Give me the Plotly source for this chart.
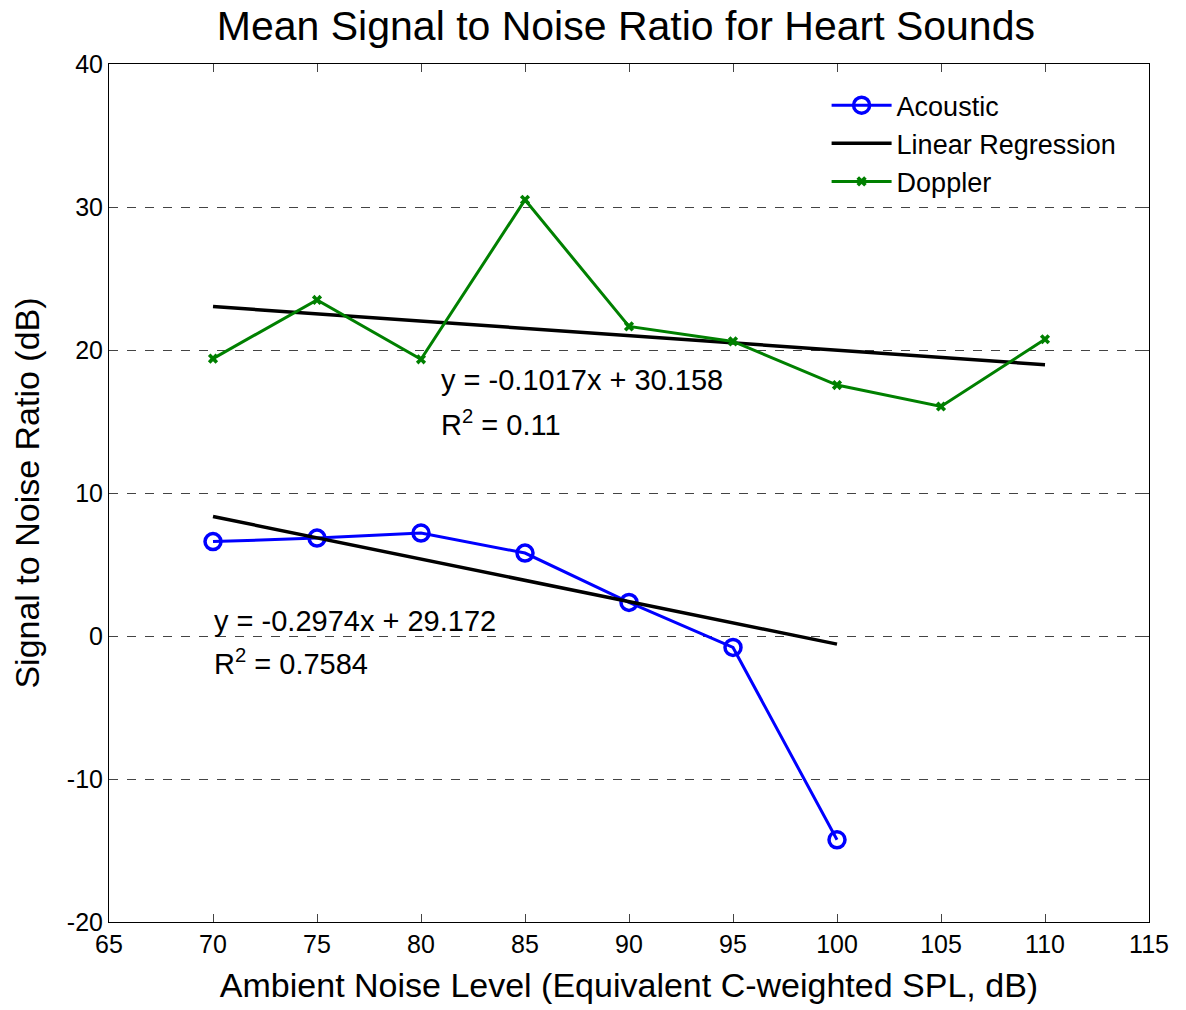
import plotly.graph_objects as go

noise_levels_acoustic = [70, 75, 80, 85, 90, 95, 100]
snr_acoustic = [6.6, 6.85, 7.2, 5.8, 2.35, -0.8, -14.25]

noise_levels_doppler = [70, 75, 80, 85, 90, 95, 100, 105, 110]
snr_doppler = [19.4, 23.5, 19.35, 30.5, 21.65, 20.6, 17.55, 16.05, 20.75]

fit_acoustic = {"slope": -0.2974, "intercept": 29.172, "r2": "0.7584", "x": [70, 100]}
fit_doppler = {"slope": -0.1017, "intercept": 30.158, "r2": "0.11", "x": [70, 110]}

x_ticks = [65, 70, 75, 80, 85, 90, 95, 100, 105, 110, 115]
y_ticks = [-20, -10, 0, 10, 20, 30, 40]
y_tick_labels = ["-20", "-10", "0", "10", "20", "30", "40"]

FONT = "Liberation Sans, Arial, sans-serif"

fig = go.Figure()

fig.add_trace(go.Scatter(
    x=noise_levels_acoustic, y=snr_acoustic, mode="lines+markers", name="Acoustic",
    line=dict(color="#0000ff", width=3),
    marker=dict(symbol="circle-open", size=16, color="#0000ff", line=dict(width=3.5)),
))

def fit_line(f):
    return [f["slope"] * x + f["intercept"] for x in f["x"]]

fig.add_trace(go.Scatter(
    x=fit_doppler["x"], y=fit_line(fit_doppler), mode="lines", name="Linear Regression",
    line=dict(color="black", width=3.5),
))
fig.add_trace(go.Scatter(
    x=noise_levels_doppler, y=snr_doppler, mode="lines+markers", name="Doppler",
    line=dict(color="#008000", width=3),
    marker=dict(symbol="x", size=9, color="#008000"),
))
fig.add_trace(go.Scatter(
    x=fit_acoustic["x"], y=fit_line(fit_acoustic), mode="lines", showlegend=False,
    line=dict(color="black", width=3.5),
))

ann_font = dict(family=FONT, size=29, color="black")
annotations = [
    dict(x=80.85, y=17.9, text=f"y = {fit_doppler['slope']}x + {fit_doppler['intercept']}"),
    dict(x=80.85, y=14.9, text=f"R<sup>2</sup> = {fit_doppler['r2']}"),
    dict(x=69.95, y=1.05, text=f"y = {fit_acoustic['slope']}x + {fit_acoustic['intercept']}"),
    dict(x=69.95, y=-1.85, text=f"R<sup>2</sup> = {fit_acoustic['r2']}"),
]
for a in annotations:
    fig.add_annotation(xref="x", yref="y", xanchor="left", yanchor="middle",
                       showarrow=False, font=ann_font, **a)

# page body adds an 8px offset; margins compensate so the plot box lands at 109..1149 x 63..921
fig.update_layout(
    width=1186, height=1010,
    margin=dict(l=101, r=45, t=56, b=96),
    paper_bgcolor="white", plot_bgcolor="white",
    font=dict(family=FONT, size=25, color="black"),
    title=dict(text="Mean Signal to Noise Ratio for Heart Sounds", x=0.521, xanchor="center",
               y=1 - 18 / 1010, yanchor="middle", font=dict(size=41)),
    showlegend=True,
    legend=dict(x=0.69, y=0.98, xanchor="left", yanchor="top", bgcolor="rgba(255,255,255,0)",
                font=dict(size=27), itemwidth=60, tracegroupgap=0),
    xaxis=dict(range=[65, 115], tickvals=x_ticks, ticks="inside", ticklen=8, tickwidth=1,
               showline=True, linecolor="black", linewidth=1, mirror="ticks",
               showgrid=False, zeroline=False, automargin=False,
               title=dict(text="Ambient Noise Level (Equivalent C-weighted SPL, dB)", font=dict(size=34), standoff=16)),
    yaxis=dict(range=[-20, 40], tickvals=y_ticks, ticktext=y_tick_labels, ticks="inside", ticklen=8, tickwidth=1,
               showline=True, linecolor="black", linewidth=1, mirror="ticks",
               showgrid=True, gridcolor="#444444", griddash="dash", gridwidth=1, zeroline=False, automargin=False,
               title=dict(text="Signal to Noise Ratio (dB)", font=dict(size=34), standoff=17)),
)

fig.write_html("out.html")
